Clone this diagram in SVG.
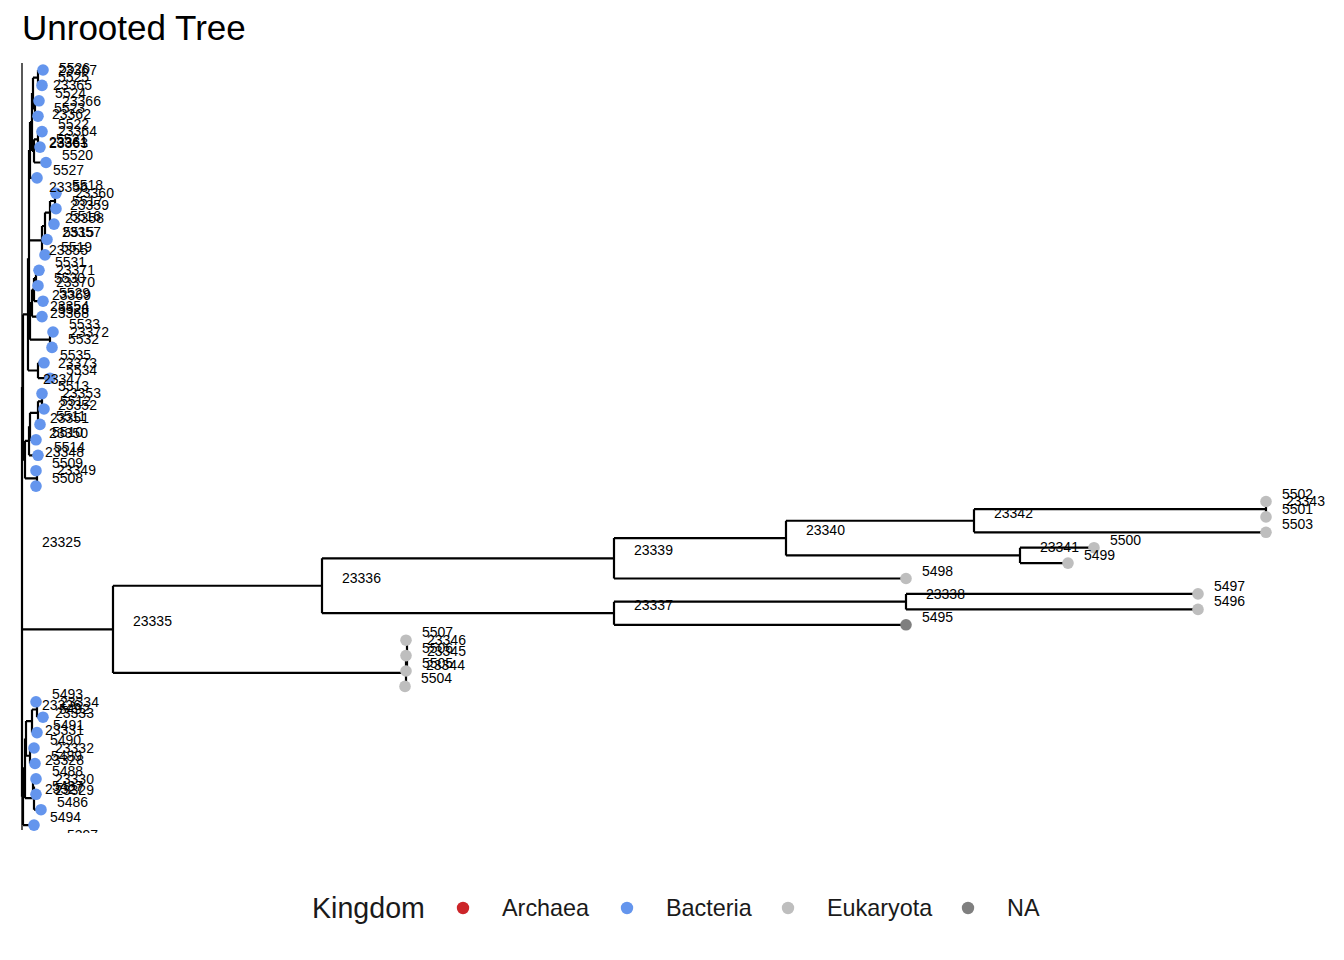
<svg xmlns="http://www.w3.org/2000/svg" width="1344" height="960" viewBox="0 0 1344 960">
<style>
text{font-family:"Liberation Sans",Arial,sans-serif;fill:#000}
.t{font-size:14px}
.e{fill:none;stroke:#000;stroke-width:2.2}
.b{fill:#6495ED}.g{fill:#BEBEBE}.n{fill:#7F7F7F}.a{fill:#CC2529}
.lg{font-size:23.4px;fill:#1a1a1a}
</style>
<defs><clipPath id="panel"><rect x="0" y="55" width="1344" height="778"/></clipPath></defs>
<rect width="1344" height="960" fill="#fff"/>
<text x="22" y="40" style="font-size:35px">Unrooted Tree</text>
<g id="connectors" clip-path="url(#panel)">
<path d="M22 63V830" fill="none" stroke="#000" stroke-width="1.3"/>
<path class="e" d="M22 387V713M22 387H23
M23 314.4V459.6M23 314.4H28M23 459.6H25
M28 258.3V370.5M28 258.3H29M28 370.5H38
M29 195.2V321.4M29 321.4H30
M29 149.95V240.45M29 149.95H30M29 240.45H42
M30 122V177.9M30 122H32M30 177.9H37
M32 93.1V150.9M32 93.1H33M32 150.9H34
M33 77.7V108.5M33 77.7H38M33 108.5H35
M38 70V85.4M38 70H43M38 85.4H42
M35 100.8V116.2M35 100.8H39M35 116.2H38
M34 139.35V162.5M34 139.35H38M34 162.5H46
M38 131.6V147.1M38 131.6H42M38 147.1H40
M42 226V254.9M42 226H45M42 254.9H45
M45 212.55V239.5M45 212.55H50M45 239.5H47
M50 201V224.1M50 201H55M50 224.1H54
M55 193.3V208.7M55 193.3H56M55 208.7H56
M30 303.1V339.7M30 303.1H32M30 339.7H50
M32 289.6V316.6M32 289.6H34M32 316.6H42
M34 278V301.2M34 278H36M34 301.2H43
M36 270.3V285.7M36 270.3H39M36 285.7H38
M50 332V347.4M50 332H53M50 347.4H52
M38 362.8V378.2M38 362.8H44M38 378.2H50
M25 440.8V478.4M25 440.8H29M25 478.4H37
M29 426.3V455.3M29 426.3H30M29 455.3H38
M30 412.85V439.8M30 412.85H38M30 439.8H36
M38 401.3V424.4M38 401.3H42M38 424.4H40
M42 393.6V409M42 409H44
M37 470.7V486.1M37 470.7H36M37 486.1H36
M22 629.3V796.7M22 629.3H113M22 796.7H23
M113 585.75V672.9M113 585.75H322M113 672.9H406
M322 558.3V613.2M322 558.3H614M322 613.2H614
M614 538.1V578.5M614 538.1H786M614 578.5H906
M786 520.75V555.4M786 520.75H974M786 555.4H1020
M974 509.2V532.3M974 509.2H1266M974 532.3H1266
M1266 501.5V516.9
M1020 547.7V563.1M1020 547.7H1094M1020 563.1H1068
M614 601.65V624.8M614 601.65H906M614 624.8H906
M906 593.9V609.4M906 593.9H1198M906 609.4H1198
M406 659.45V686.4M406 659.45H407M406 686.4H405
M407 647.9V671
M407 640.2V655.6
M23 768.3V825.1M23 768.3H25M23 825.1H34
M25 738.4V798.15M25 738.4H26M25 798.15H34
M26 721.05V755.75M26 721.05H32M26 755.75H30
M32 709.5V732.6M32 709.5H37M32 732.6H37
M37 701.8V717.2M37 717.2H43
M30 748V763.5M30 748H34M30 763.5H35
M34 786.6V809.7M34 809.7H41
M33 778.9V794.3M33 778.9H36M33 794.3H36"/>
</g>
<g id="tips">
<g id="t5526"><circle class="b" cx="43" cy="70" r="5.8"/><text class="t" x="59" y="73">5526</text></g>
<g id="t5525"><circle class="b" cx="42" cy="85.4" r="5.8"/><text class="t" x="58" y="82.4">5525</text></g>
<g id="t5524"><circle class="b" cx="39" cy="100.8" r="5.8"/><text class="t" x="55" y="97.8">5524</text></g>
<g id="t5523"><circle class="b" cx="38" cy="116.2" r="5.8"/><text class="t" x="54" y="113.2">5523</text></g>
<g id="t5522"><circle class="b" cx="42" cy="131.6" r="5.8"/><text class="t" x="58" y="128.6">5522</text></g>
<g id="t5521"><circle class="b" cx="40" cy="147.1" r="5.8"/><text class="t" x="56" y="144.1">5521</text></g>
<g id="t5520"><circle class="b" cx="46" cy="162.5" r="5.8"/><text class="t" x="62" y="159.5">5520</text></g>
<g id="t5527"><circle class="b" cx="37" cy="177.9" r="5.8"/><text class="t" x="53" y="174.9">5527</text></g>
<g id="t5518"><circle class="b" cx="56" cy="193.3" r="5.8"/><text class="t" x="72" y="190.3">5518</text></g>
<g id="t5517"><circle class="b" cx="56" cy="208.7" r="5.8"/><text class="t" x="72" y="205.7">5517</text></g>
<g id="t5516"><circle class="b" cx="54" cy="224.1" r="5.8"/><text class="t" x="70" y="221.1">5516</text></g>
<g id="t5515"><circle class="b" cx="47" cy="239.5" r="5.8"/><text class="t" x="63" y="236.5">5515</text></g>
<g id="t5519"><circle class="b" cx="45" cy="254.9" r="5.8"/><text class="t" x="61" y="251.9">5519</text></g>
<g id="t5531"><circle class="b" cx="39" cy="270.3" r="5.8"/><text class="t" x="55" y="267.3">5531</text></g>
<g id="t5530"><circle class="b" cx="38" cy="285.7" r="5.8"/><text class="t" x="54" y="282.7">5530</text></g>
<g id="t5529"><circle class="b" cx="43" cy="301.2" r="5.8"/><text class="t" x="59" y="298.2">5529</text></g>
<g id="t5528"><circle class="b" cx="42" cy="316.6" r="5.8"/><text class="t" x="58" y="313.6">5528</text></g>
<g id="t5533"><circle class="b" cx="53" cy="332" r="5.8"/><text class="t" x="69" y="329">5533</text></g>
<g id="t5532"><circle class="b" cx="52" cy="347.4" r="5.8"/><text class="t" x="68" y="344.4">5532</text></g>
<g id="t5535"><circle class="b" cx="44" cy="362.8" r="5.8"/><text class="t" x="60" y="359.8">5535</text></g>
<g id="t5534"><circle class="b" cx="50" cy="378.2" r="5.8"/><text class="t" x="66" y="375.2">5534</text></g>
<g id="t5513"><circle class="b" cx="42" cy="393.6" r="5.8"/><text class="t" x="58" y="390.6">5513</text></g>
<g id="t5512"><circle class="b" cx="44" cy="409" r="5.8"/><text class="t" x="60" y="406">5512</text></g>
<g id="t5511"><circle class="b" cx="40" cy="424.4" r="5.8"/><text class="t" x="56" y="421.4">5511</text></g>
<g id="t5510"><circle class="b" cx="36" cy="439.8" r="5.8"/><text class="t" x="52" y="436.8">5510</text></g>
<g id="t5514"><circle class="b" cx="38" cy="455.3" r="5.8"/><text class="t" x="54" y="452.3">5514</text></g>
<g id="t5509"><circle class="b" cx="36" cy="470.7" r="5.8"/><text class="t" x="52" y="467.7">5509</text></g>
<g id="t5508"><circle class="b" cx="36" cy="486.1" r="5.8"/><text class="t" x="52" y="483.1">5508</text></g>
<g id="t5502"><circle class="g" cx="1266" cy="501.5" r="5.8"/><text class="t" x="1282" y="498.5">5502</text></g>
<g id="t5501"><circle class="g" cx="1266" cy="516.9" r="5.8"/><text class="t" x="1282" y="513.9">5501</text></g>
<g id="t5503"><circle class="g" cx="1266" cy="532.3" r="5.8"/><text class="t" x="1282" y="529.3">5503</text></g>
<g id="t5500"><circle class="g" cx="1094" cy="547.7" r="5.8"/><text class="t" x="1110" y="544.7">5500</text></g>
<g id="t5499"><circle class="g" cx="1068" cy="563.1" r="5.8"/><text class="t" x="1084" y="560.1">5499</text></g>
<g id="t5498"><circle class="g" cx="906" cy="578.5" r="5.8"/><text class="t" x="922" y="575.5">5498</text></g>
<g id="t5497"><circle class="g" cx="1198" cy="593.9" r="5.8"/><text class="t" x="1214" y="590.9">5497</text></g>
<g id="t5496"><circle class="g" cx="1198" cy="609.4" r="5.8"/><text class="t" x="1214" y="606.4">5496</text></g>
<g id="t5495"><circle class="n" cx="906" cy="624.8" r="5.8"/><text class="t" x="922" y="621.8">5495</text></g>
<g id="t5507"><circle class="g" cx="406" cy="640.2" r="5.8"/><text class="t" x="422" y="637.2">5507</text></g>
<g id="t5506"><circle class="g" cx="406" cy="655.6" r="5.8"/><text class="t" x="422" y="652.6">5506</text></g>
<g id="t5505"><circle class="g" cx="406" cy="671" r="5.8"/><text class="t" x="422" y="668">5505</text></g>
<g id="t5504"><circle class="g" cx="405" cy="686.4" r="5.8"/><text class="t" x="421" y="683.4">5504</text></g>
<g id="t5493"><circle class="b" cx="36" cy="701.8" r="5.8"/><text class="t" x="52" y="698.8">5493</text></g>
<g id="t5492"><circle class="b" cx="43" cy="717.2" r="5.8"/><text class="t" x="59" y="714.2">5492</text></g>
<g id="t5491"><circle class="b" cx="37" cy="732.6" r="5.8"/><text class="t" x="53" y="729.6">5491</text></g>
<g id="t5490"><circle class="b" cx="34" cy="748" r="5.8"/><text class="t" x="50" y="745">5490</text></g>
<g id="t5489"><circle class="b" cx="35" cy="763.5" r="5.8"/><text class="t" x="51" y="760.5">5489</text></g>
<g id="t5488"><circle class="b" cx="36" cy="778.9" r="5.8"/><text class="t" x="52" y="775.9">5488</text></g>
<g id="t5487"><circle class="b" cx="36" cy="794.3" r="5.8"/><text class="t" x="52" y="791.3">5487</text></g>
<g id="t5486"><circle class="b" cx="41" cy="809.7" r="5.8"/><text class="t" x="57" y="806.7">5486</text></g>
<g id="t5494"><circle class="b" cx="34" cy="825.1" r="5.8"/><text class="t" x="50" y="822.1">5494</text></g>
</g>
<g id="internal" class="t" font-size="14">
<g id="n23367"><text x="58" y="74.7">23367</text></g>
<g id="n23365"><text x="53" y="90.1">23365</text></g>
<g id="n23366"><text x="62" y="105.5">23366</text></g>
<g id="n23362"><text x="52" y="119">23362</text></g>
<g id="n23364"><text x="58" y="136.3">23364</text></g>
<g id="n23363"><text x="49" y="147.9">23363</text></g>
<g id="n23361"><text x="49" y="147">23361</text></g>
<g id="n23356"><text x="49" y="192.2">23356</text></g>
<g id="n23360"><text x="75" y="198">23360</text></g>
<g id="n23359"><text x="70" y="209.5">23359</text></g>
<g id="n23358"><text x="65" y="223">23358</text></g>
<g id="n23357"><text x="62" y="237.4">23357</text></g>
<g id="n23355"><text x="49" y="255.3">23355</text></g>
<g id="n23371"><text x="56" y="275">23371</text></g>
<g id="n23370"><text x="56" y="286.6">23370</text></g>
<g id="n23369"><text x="52" y="300.1">23369</text></g>
<g id="n23354"><text x="50" y="311.4">23354</text></g>
<g id="n23368"><text x="50" y="318.4">23368</text></g>
<g id="n23372"><text x="70" y="336.7">23372</text></g>
<g id="n23373"><text x="58" y="367.5">23373</text></g>
<g id="n23347"><text x="43" y="384">23347</text></g>
<g id="n23353"><text x="62" y="398.3">23353</text></g>
<g id="n23352"><text x="58" y="409.8">23352</text></g>
<g id="n23351"><text x="50" y="423.3">23351</text></g>
<g id="n23350"><text x="49" y="437.8">23350</text></g>
<g id="n23348"><text x="45" y="456.6">23348</text></g>
<g id="n23349"><text x="57" y="475.4">23349</text></g>
<g id="n23325"><text x="42" y="547">23325</text></g>
<g id="n23343"><text x="1286" y="506.2">23343</text></g>
<g id="n23342"><text x="994" y="517.7">23342</text></g>
<g id="n23341"><text x="1040" y="552.4">23341</text></g>
<g id="n23340"><text x="806" y="535.1">23340</text></g>
<g id="n23339"><text x="634" y="555.3">23339</text></g>
<g id="n23338"><text x="926" y="598.6">23338</text></g>
<g id="n23337"><text x="634" y="610.2">23337</text></g>
<g id="n23336"><text x="342" y="582.7">23336</text></g>
<g id="n23346"><text x="427" y="644.9">23346</text></g>
<g id="n23345"><text x="427" y="656.4">23345</text></g>
<g id="n23344"><text x="426" y="669.9">23344</text></g>
<g id="n23335"><text x="133" y="626.3">23335</text></g>
<g id="n23326"><text x="42" y="710">23326</text></g>
<g id="n23334"><text x="60" y="706.5">23334</text></g>
<g id="n23333"><text x="55" y="718">23333</text></g>
<g id="n23331"><text x="45" y="735.4">23331</text></g>
<g id="n23332"><text x="55" y="752.7">23332</text></g>
<g id="n23328"><text x="45" y="765.3">23328</text></g>
<g id="n23330"><text x="55" y="783.6">23330</text></g>
<g id="n23327"><text x="45" y="793.7">23327</text></g>
<g id="n23329"><text x="55" y="795.1">23329</text></g>
<g id="n5397" clip-path="url(#panel)"><text x="67" y="840">5397</text></g>
</g>
<g id="legend">
<text x="312" y="918" style="font-size:28.6px;fill:#1a1a1a">Kingdom</text>
<circle class="a" cx="463" cy="908" r="6.2"/><text class="lg" x="502" y="916">Archaea</text>
<circle class="b" cx="627" cy="908" r="6.2"/><text class="lg" x="666" y="916">Bacteria</text>
<circle class="g" cx="788" cy="908" r="6.2"/><text class="lg" x="827" y="916">Eukaryota</text>
<circle class="n" cx="968" cy="908" r="6.2"/><text class="lg" x="1007" y="916">NA</text>
</g>
</svg>
